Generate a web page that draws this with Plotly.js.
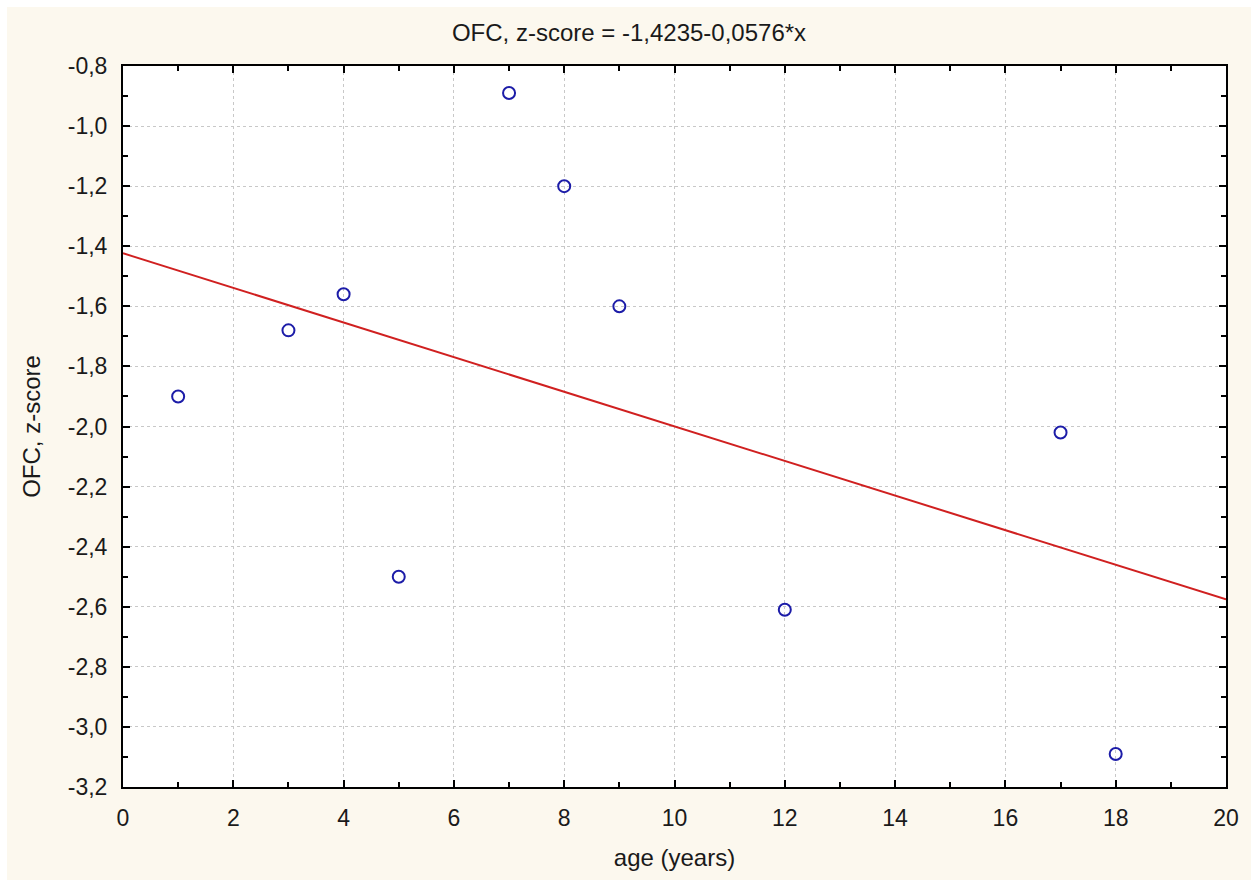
<!DOCTYPE html>
<html>
<head>
<meta charset="utf-8">
<script src="https://cdn.plot.ly/plotly-3.0.1.min.js"></script>
<style>
  html, body { margin: 0; padding: 0; background: #ffffff; }
  #chart { position: absolute; left: 7px; top: 7px; width: 1244px; height: 873px; }
</style>
</head>
<body>
<div id="chart"></div>
<script>
// Data
const ageYears = [1, 3, 4, 5, 7, 8, 9, 12, 17, 18];
const ofcZScore = [-1.90, -1.68, -1.56, -2.50, -0.89, -1.20, -1.60, -2.61, -2.02, -3.09];
const fitIntercept = -1.4235;
const fitSlope = -0.0576;
const fitX = [0, 20];
const fitY = fitX.map(x => fitIntercept + fitSlope * x);

// Tick labels
const xTickVals = [0, 2, 4, 6, 8, 10, 12, 14, 16, 18, 20];
const xTickText = ['0', '2', '4', '6', '8', '10', '12', '14', '16', '18', '20'];
const yTickVals = [-0.8, -1.0, -1.2, -1.4, -1.6, -1.8, -2.0, -2.2, -2.4, -2.6, -2.8, -3.0, -3.2];
const yTickText = ['-0,8', '-1,0', '-1,2', '-1,4', '-1,6', '-1,8', '-2,0', '-2,2', '-2,4', '-2,6', '-2,8', '-3,0', '-3,2'];

const titleText = 'OFC, z-score = -1,4235-0,0576*x';
const xTitle = 'age (years)';
const yTitle = 'OFC, z-score';

const cream = '#fcf8ee';
const fontFam = '"Liberation Sans", Arial, sans-serif';
const textColor = '#1a1a1a';

const traces = [
  {
    x: fitX, y: fitY, type: 'scatter', mode: 'lines',
    line: {color: '#d02020', width: 2},
    hoverinfo: 'skip'
  },
  {
    x: ageYears, y: ofcZScore, type: 'scatter', mode: 'markers',
    marker: {symbol: 'circle-open', size: 12, color: '#1c1ca8', line: {width: 2, color: '#1c1ca8'}}
  }
];

const axisCommon = {
  showline: true, linecolor: '#000000', linewidth: 2, mirror: 'allticks',
  ticks: 'inside', ticklen: 7, tickwidth: 2, tickcolor: '#000000',
  showgrid: true, gridcolor: '#c8c8c8', gridwidth: 1, griddash: 'dot',
  zeroline: false, tickmode: 'array',
  tickfont: {family: fontFam, size: 23, color: textColor}
};

const layout = {
  width: 1244, height: 873,
  paper_bgcolor: cream, plot_bgcolor: '#ffffff',
  margin: {l: 116, r: 25, t: 59, b: 93},
  showlegend: false,
  font: {family: fontFam, color: textColor},
  title: {text: titleText, font: {family: fontFam, size: 24, color: textColor}, x: 0.5, xanchor: 'center', y: 0.971, yanchor: 'middle'},
  xaxis: Object.assign({}, axisCommon, {
    range: [0, 20], tickvals: xTickVals, ticktext: xTickText,
    ticklabelstandoff: 9,
    minor: {tickmode: 'linear', tick0: 0, dtick: 1, ticks: 'inside', ticklen: 5, tickwidth: 2, tickcolor: '#000000', showgrid: false},
    title: {text: xTitle, font: {family: fontFam, size: 24, color: textColor}, standoff: 20}
  }),
  yaxis: Object.assign({}, axisCommon, {
    range: [-3.2, -0.8], tickvals: yTickVals, ticktext: yTickText,
    ticklabelstandoff: 9,
    minor: {tickmode: 'linear', tick0: -0.8, dtick: 0.1, ticks: 'inside', ticklen: 5, tickwidth: 2, tickcolor: '#000000', showgrid: false},
    title: {text: yTitle, font: {family: fontFam, size: 24, color: textColor}, standoff: 20}
  })
};

Plotly.newPlot('chart', traces, layout, {displayModeBar: false, staticPlot: true});
</script>
</body>
</html>
